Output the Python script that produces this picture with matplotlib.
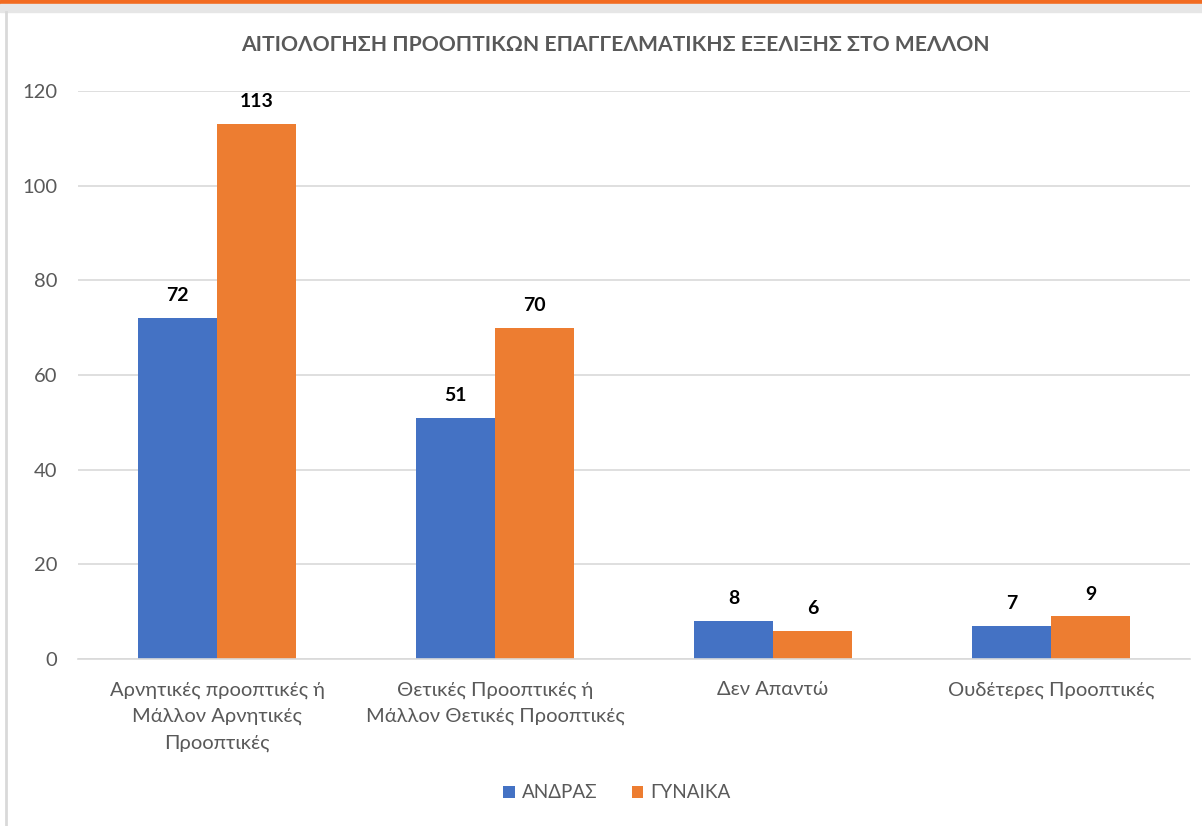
import matplotlib.pyplot as plt
import numpy as np
from matplotlib.lines import Line2D
from matplotlib.patches import Rectangle

categories = ["Αρνητικές προοπτικές ή\nΜάλλον Αρνητικές\nΠροοπτικές",
              "Θετικές Προοπτικές ή\nΜάλλον Θετικές Προοπτικές",
              "Δεν Απαντώ",
              "Ουδέτερες Προοπτικές"]
men = [72, 51, 8, 7]
women = [113, 70, 6, 9]
series_names = ["ΑΝΔΡΑΣ", "ΓΥΝΑΙΚΑ"]
yticks = [0, 20, 40, 60, 80, 100, 120]

plt.rcParams['font.family'] = ['Lato', 'DejaVu Sans']
blue = "#4472c4"
orange = "#ed7d31"
grey = "#595959"

W, H = 1202, 826
fig = plt.figure(figsize=(W / 100, H / 100), dpi=100)

# window frame bits
fig.patches.append(Rectangle((0, 1 - 4 / H), 1, 4 / H, transform=fig.transFigure, color="#f26b21", zorder=0))
fig.patches.append(Rectangle((0, 1 - 12 / H), 1, 8 / H, transform=fig.transFigure, color="#e6e6e6", zorder=0))
fig.lines.append(Line2D([6 / W, 6 / W], [0, 1 - 12 / H], transform=fig.transFigure, color="#d9d9d9", lw=2))

ax = fig.add_axes([78 / W, 1 - 659 / H, (1190 - 78) / W, (659 - 91) / H])
x = np.arange(len(categories))
bw = 0.284
b1 = ax.bar(x - bw / 2, men, bw, color=blue, label=series_names[0], zorder=2)
b2 = ax.bar(x + bw / 2, women, bw, color=orange, label=series_names[1], zorder=2)
for bars in (b1, b2):
    ax.bar_label(bars, padding=10, fontsize=14, fontweight="bold", color="black")

ax.set_xlim(-0.5, len(categories) - 0.5)
ax.set_ylim(0, 120)
ax.set_yticks(yticks)
ax.yaxis.grid(True, color="#d9d9d9", lw=1.2, zorder=0)
for s in ["top", "right", "left"]:
    ax.spines[s].set_visible(False)
ax.spines["bottom"].set_color("#d9d9d9")
ax.spines["bottom"].set_linewidth(1.2)
ax.tick_params(axis="both", length=0, labelsize=14.5, labelcolor=grey)
ax.tick_params(axis="y", pad=15)
ax.tick_params(axis="x", pad=16)
ax.set_xticks(x)
ax.set_xticklabels(categories, linespacing=1.65)

fig.text(615 / W, 1 - 45 / H, "ΑΙΤΙΟΛΟΓΗΣΗ ΠΡΟΟΠΤΙΚΩΝ ΕΠΑΓΓΕΛΜΑΤΙΚΗΣ ΕΞΕΛΙΞΗΣ ΣΤΟ ΜΕΛΛΟΝ",
         ha="center", va="center", fontsize=15.2, fontweight="bold", color=grey)

fig.legend(loc="center", bbox_to_anchor=(617 / W, 1 - 793 / H), ncol=2, frameon=False,
           fontsize=13.6, labelcolor=grey, handlelength=0.6, handleheight=0.6,
           columnspacing=1.8, handletextpad=0.4)

fig.savefig("out.png", dpi=100)
